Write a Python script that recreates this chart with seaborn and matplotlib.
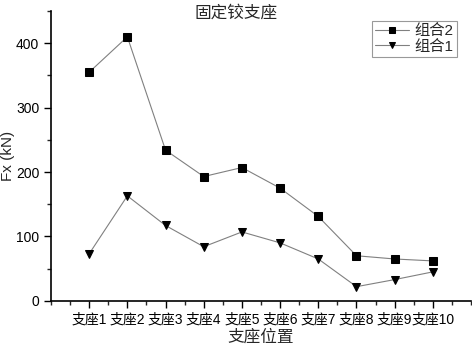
import matplotlib.pyplot as plt
import pandas as pd
import seaborn as sns
from matplotlib.ticker import MultipleLocator

supports = ['支座1', '支座2', '支座3', '支座4', '支座5',
            '支座6', '支座7', '支座8', '支座9', '支座10']
combo2 = [355, 410, 234, 193, 207, 175, 131, 70, 65, 62]
combo1 = [73, 163, 117, 84, 107, 90, 65, 22, 33, 45]


def main():
    sns.set_style('ticks')
    plt.rcParams['font.family'] = ['Liberation Sans', 'Noto Sans CJK SC']

    df = pd.DataFrame({
        'pos': list(range(1, 11)) * 2,
        'Fx': combo2 + combo1,
        'combo': ['组合2'] * 10 + ['组合1'] * 10,
    })

    fig = plt.figure(figsize=(4.72, 3.45), dpi=100)
    ax = fig.add_axes([0.108, 0.128, 0.89, 0.84])

    sns.lineplot(data=df, x='pos', y='Fx', hue='combo', style='combo',
                 palette={'组合2': 'black', '组合1': 'black'},
                 markers={'组合2': 's', '组合1': 'v'},
                 dashes=False, linewidth=0.8, markersize=6,
                 markeredgecolor='black', ax=ax)
    for line in ax.lines:
        line.set_color('#808080')
        line.set_markerfacecolor('black')
        line.set_markeredgecolor('black')

    ax.set_xlim(0, 11)
    ax.set_ylim(0, 450)
    ax.set_xticks(range(1, 11))
    ax.set_xticklabels(supports, fontsize=10)
    ax.xaxis.set_minor_locator(MultipleLocator(0.5))
    ax.yaxis.set_major_locator(MultipleLocator(100))
    ax.yaxis.set_minor_locator(MultipleLocator(50))
    ax.tick_params(axis='both', which='major', length=5, width=1,
                   direction='out', labelsize=10, colors='black')
    ax.tick_params(axis='both', which='minor', length=3, width=1,
                   direction='out')
    for s in ['left', 'bottom']:
        ax.spines[s].set_linewidth(1.2)
        ax.spines[s].set_color('black')
    sns.despine(ax=ax)

    ax.set_xlabel('支座位置', fontsize=12, labelpad=2)
    ax.set_ylabel('Fx (kN)', fontsize=11)
    ax.yaxis.set_label_coords(-0.085, 0.5)
    fig.text(0.5, 0.985, '固定铰支座', ha='center', va='top', fontsize=12)

    handles, labels = ax.get_legend_handles_labels()
    leg = ax.legend(handles, labels, loc='upper right',
                    bbox_to_anchor=(0.966, 0.965), fontsize=11,
                    frameon=True, fancybox=False, edgecolor='#808080',
                    handlelength=2.2, borderpad=0.2, labelspacing=0.1,
                    handletextpad=0.4, borderaxespad=0)
    leg.get_frame().set_linewidth(0.8)
    for h in leg.legend_handles:
        h.set_color('#808080')
        h.set_markerfacecolor('black')
        h.set_markeredgecolor('black')
        h.set_markersize(5)

    plt.savefig('out.png', dpi=100)


if __name__ == '__main__':
    main()
